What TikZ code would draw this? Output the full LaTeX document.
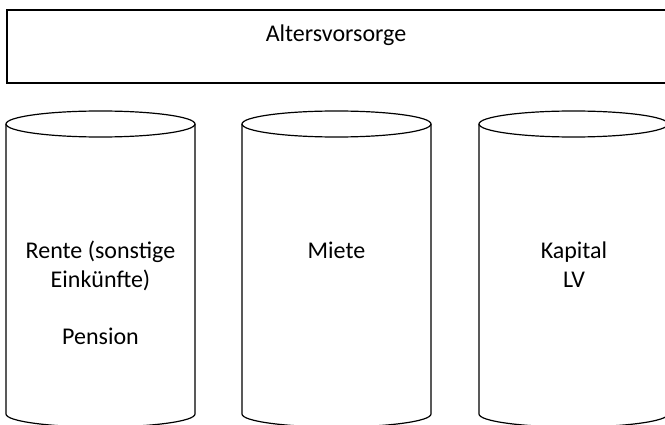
\documentclass[tikz,border=0pt]{standalone}
\usepackage{fontspec}
\setmainfont{Carlito}
\usetikzlibrary{positioning}
\tikzset{
    x=1pt,
    y=1pt,
    txt/.style = {
        font=\fontsize{24}{28.5}\selectfont,
        align=center,
        inner sep=0pt,
        anchor=base
    },
    topbox/.style = {
        draw,
        shape=rectangle,
        minimum width=666pt,
        minimum height=73pt,
        line width=1.2pt
    },
    tonne/.style = {
        draw,
        line width=1.2pt
    },
}

\begin{document}
\begin{tikzpicture}
    \useasboundingbox (0,0) rectangle (665,424);
    \clip (0,0) rectangle (665,424);

    \node[topbox] (vorsorge) at (340,377.5) {};
    \node[txt] (vorsorgetext) at (336,382) {Altersvorsorge};

    % die drei Saeulen
    \foreach \xl in {6,242,479} {
        \draw[tonne] (\xl,300) -- (\xl,10)
            arc[start angle=180, end angle=360, x radius=94.5, y radius=13]
            -- (\xl+189,300);
        \draw[tonne] (\xl+94.5,300) ellipse [x radius=94.5, y radius=13];
    }

    % base = Grundlinie der letzten Zeile
    \node[txt] (rente) at (100.5,80) {Rente (sonstige\\Einkünfte)\\[28.5pt]Pension};
    \node[txt] (miete) at (336.5,165) {Miete};
    \node[txt] (kapital) at (574,137) {Kapital\\LV};
\end{tikzpicture}
\end{document}
